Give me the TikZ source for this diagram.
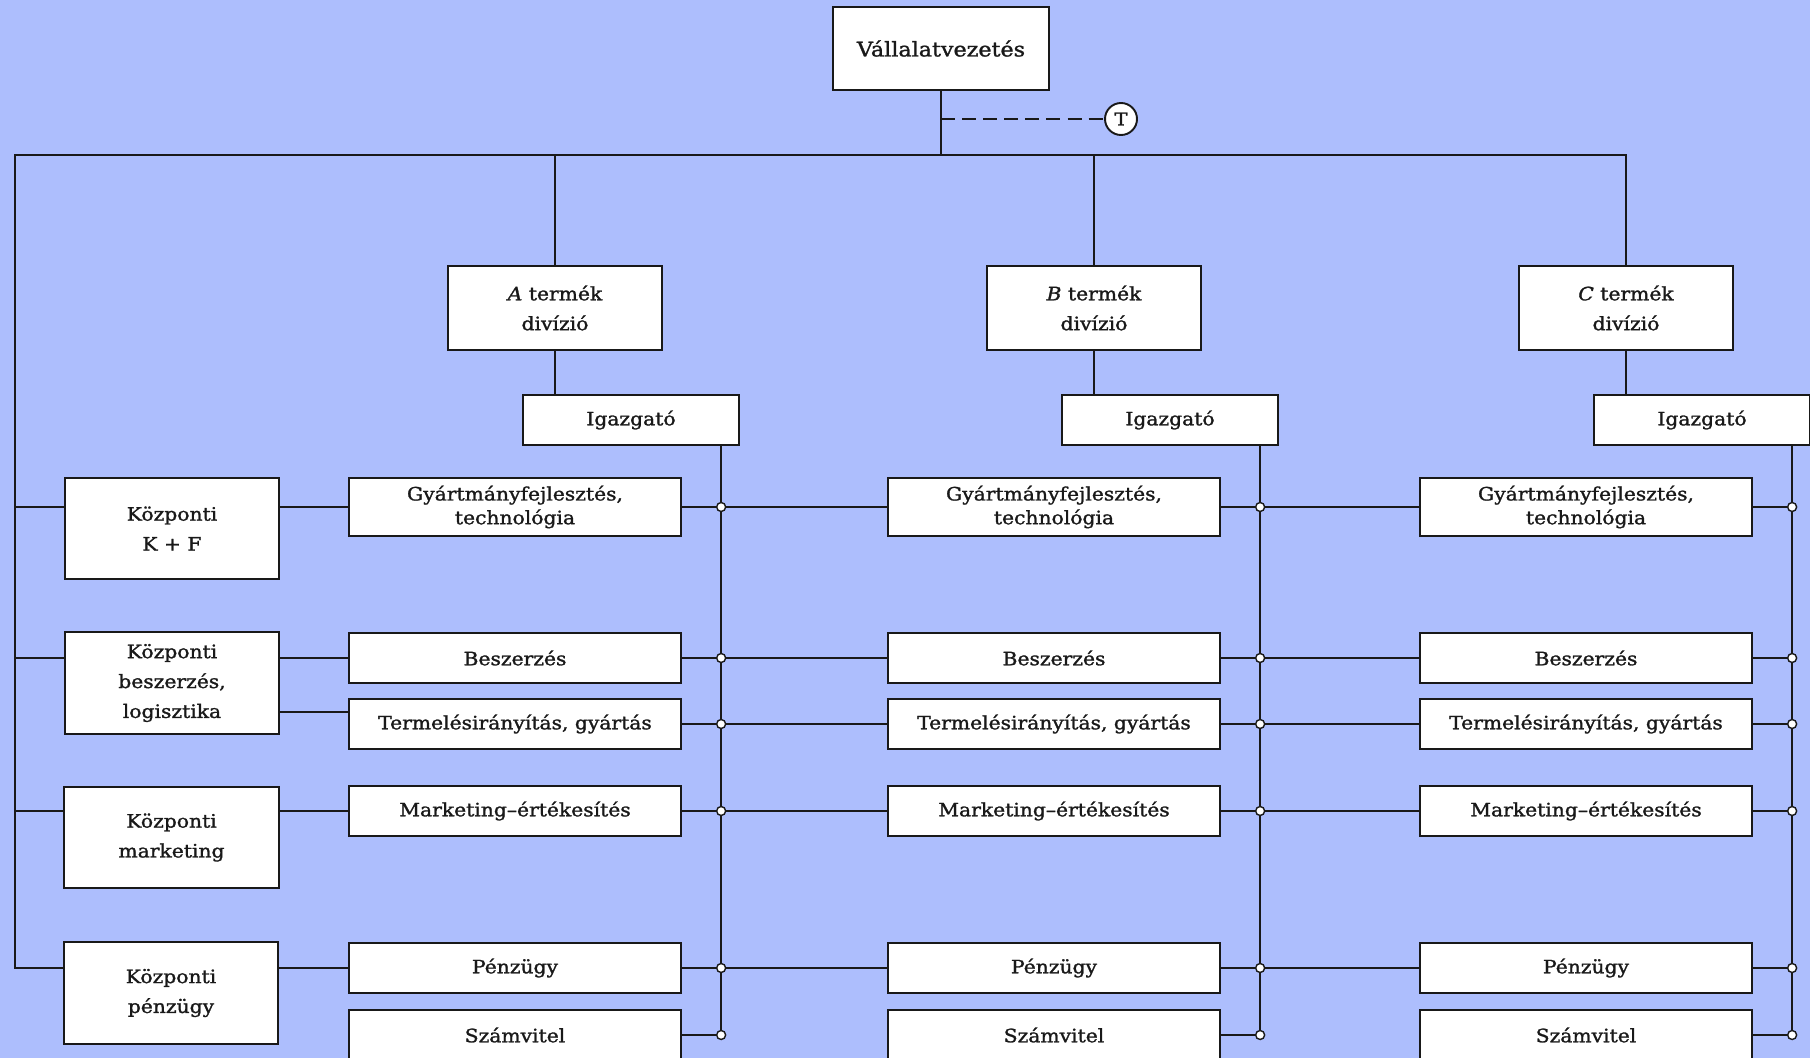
\documentclass[tikz,border=0pt]{standalone}
\usepackage{fontspec}
\setmainfont{DejaVu Serif}[FakeStretch=1.1,FakeBold=1.4]
\usetikzlibrary{calc}
\definecolor{bg}{RGB}{173,190,253}
\definecolor{ink}{RGB}{25,25,25}
% \orgbox[options]{name}{x1}{y1}{x2}{y2}{text}: a box spanning the given pixel corners
\newcommand\orgbox[7][]{%
  \node[box,#1,minimum width={((#5)-(#3))*0.02cm},minimum height={((#6)-(#4))*0.02cm}]
    (#2) at ({((#3)+(#5))/2},{((#4)+(#6))/2}) {#7};}
\begin{document}
\begin{tikzpicture}[x=0.02cm,y=-0.02cm,
  box/.style={draw=ink, line width=1.3pt, fill=white, inner sep=0pt, align=center,
    text=ink, font=\fontsize{10.5}{17}\selectfont},
  tight/.style={font=\fontsize{10.5}{13.5}\selectfont},
  link/.style={draw=ink, line width=1.1pt},
  junction/.style={draw=ink, line width=0.8pt, fill=white},
]
\useasboundingbox (0,0) rectangle (1810,1058);
\fill[bg] (0,0) rectangle (1810,1058);

% top management and the staff unit
\orgbox[font=\fontsize{11.5}{14}\selectfont]{V}{833}{7}{1049}{90}{Vállalatvezetés}
\node[draw=ink, circle, fill=white, minimum size={32*0.02cm}, inner sep=0pt,
  line width=1.1pt, text=ink, font=\fontsize{10}{12}\selectfont] (T) at (1121,119) {T};

% central functions
\orgbox{kf}{65}{478}{279}{579}{Központi\\K + F}
\orgbox{kb}{65}{632}{279}{734}{Központi\\beszerzés,\\logisztika}
\orgbox{km}{64}{787}{279}{888}{Központi\\marketing}
\orgbox{kp}{64}{942}{278}{1044}{Központi\\pénzügy}

% product divisions
\foreach \c/\d in {A/0,B/539,C/1071}{
  \orgbox{div\c}{448+\d}{266}{662+\d}{350}{\textit{\c} termék\\divízió}
  \orgbox{ig\c}{523+\d}{395}{739+\d}{445}{Igazgató}
  \orgbox[tight]{gy\c}{349+\d}{478}{681+\d}{536}{Gyártmányfejlesztés,\\technológia}
  \orgbox{bs\c}{349+\d}{633}{681+\d}{683}{Beszerzés}
  \orgbox{tm\c}{349+\d}{699}{681+\d}{749}{Termelésirányítás, gyártás}
  \orgbox{mk\c}{349+\d}{786}{681+\d}{836}{Marketing–értékesítés}
  \orgbox{pz\c}{349+\d}{943}{681+\d}{993}{Pénzügy}
  \orgbox{sz\c}{349+\d}{1010}{681+\d}{1060}{Számvitel}
}

% main bus
\coordinate (busL) at (15,155);
\draw[link] (V.south) -- (V.south |- busL);
\draw[link, dash pattern=on 8pt off 4pt] (V.south |- T) -- (T.west);
\draw[link] (divC.north) |- (busL) -- (busL |- pzA.west) -- (kp.west |- pzA.west);
\foreach \c in {A,B}
  \draw[link] (div\c.north |- busL) -- (div\c.north);
\foreach \c in {A,B,C}
  \draw[link] (div\c.south) -- (div\c.south |- ig\c.north);

% central functions tied to the bus and to division A
\draw[link] (busL |- gyA.west) -- (kf.west |- gyA.west);
\draw[link] (busL |- bsA.west) -- (kb.west |- bsA.west);
\draw[link] (busL |- mkA.west) -- (km.west |- mkA.west);
\draw[link] (kf.east |- gyA.west) -- (gyA.west);
\draw[link] (kb.east |- bsA.west) -- (bsA.west);
\coordinate (tmIn) at ($(tmA.west)+(0,-12)$);
\draw[link] (kb.east |- tmIn) -- (tmIn);
\draw[link] (km.east |- mkA.west) -- (mkA.west);
\draw[link] (kp.east |- pzA.west) -- (pzA.west);

% functional links between divisions
\foreach \p/\n in {A/B,B/C}{
  \coordinate (v\p) at ($(ig\p.south east)+(-19,0)$);
  \foreach \r in {gy,bs,tm,mk,pz}
    \draw[link] (v\p |- \r\p.east) -- (\r\n.west);
}

% director lines with their junctions
\foreach \c in {A,B,C}{
  \coordinate (v\c) at ($(ig\c.south east)+(-19,0)$);
  \draw[link] (v\c) -- (v\c |- sz\c.east);
  \foreach \r in {gy,bs,tm,mk,pz,sz}
    \draw[link] (\r\c.east) -- (v\c |- \r\c.east);
  \foreach \r in {gy,bs,tm,mk,pz,sz}
    \draw[junction] (v\c |- \r\c.east) circle[radius=0.09cm];
}
\end{tikzpicture}
\end{document}
